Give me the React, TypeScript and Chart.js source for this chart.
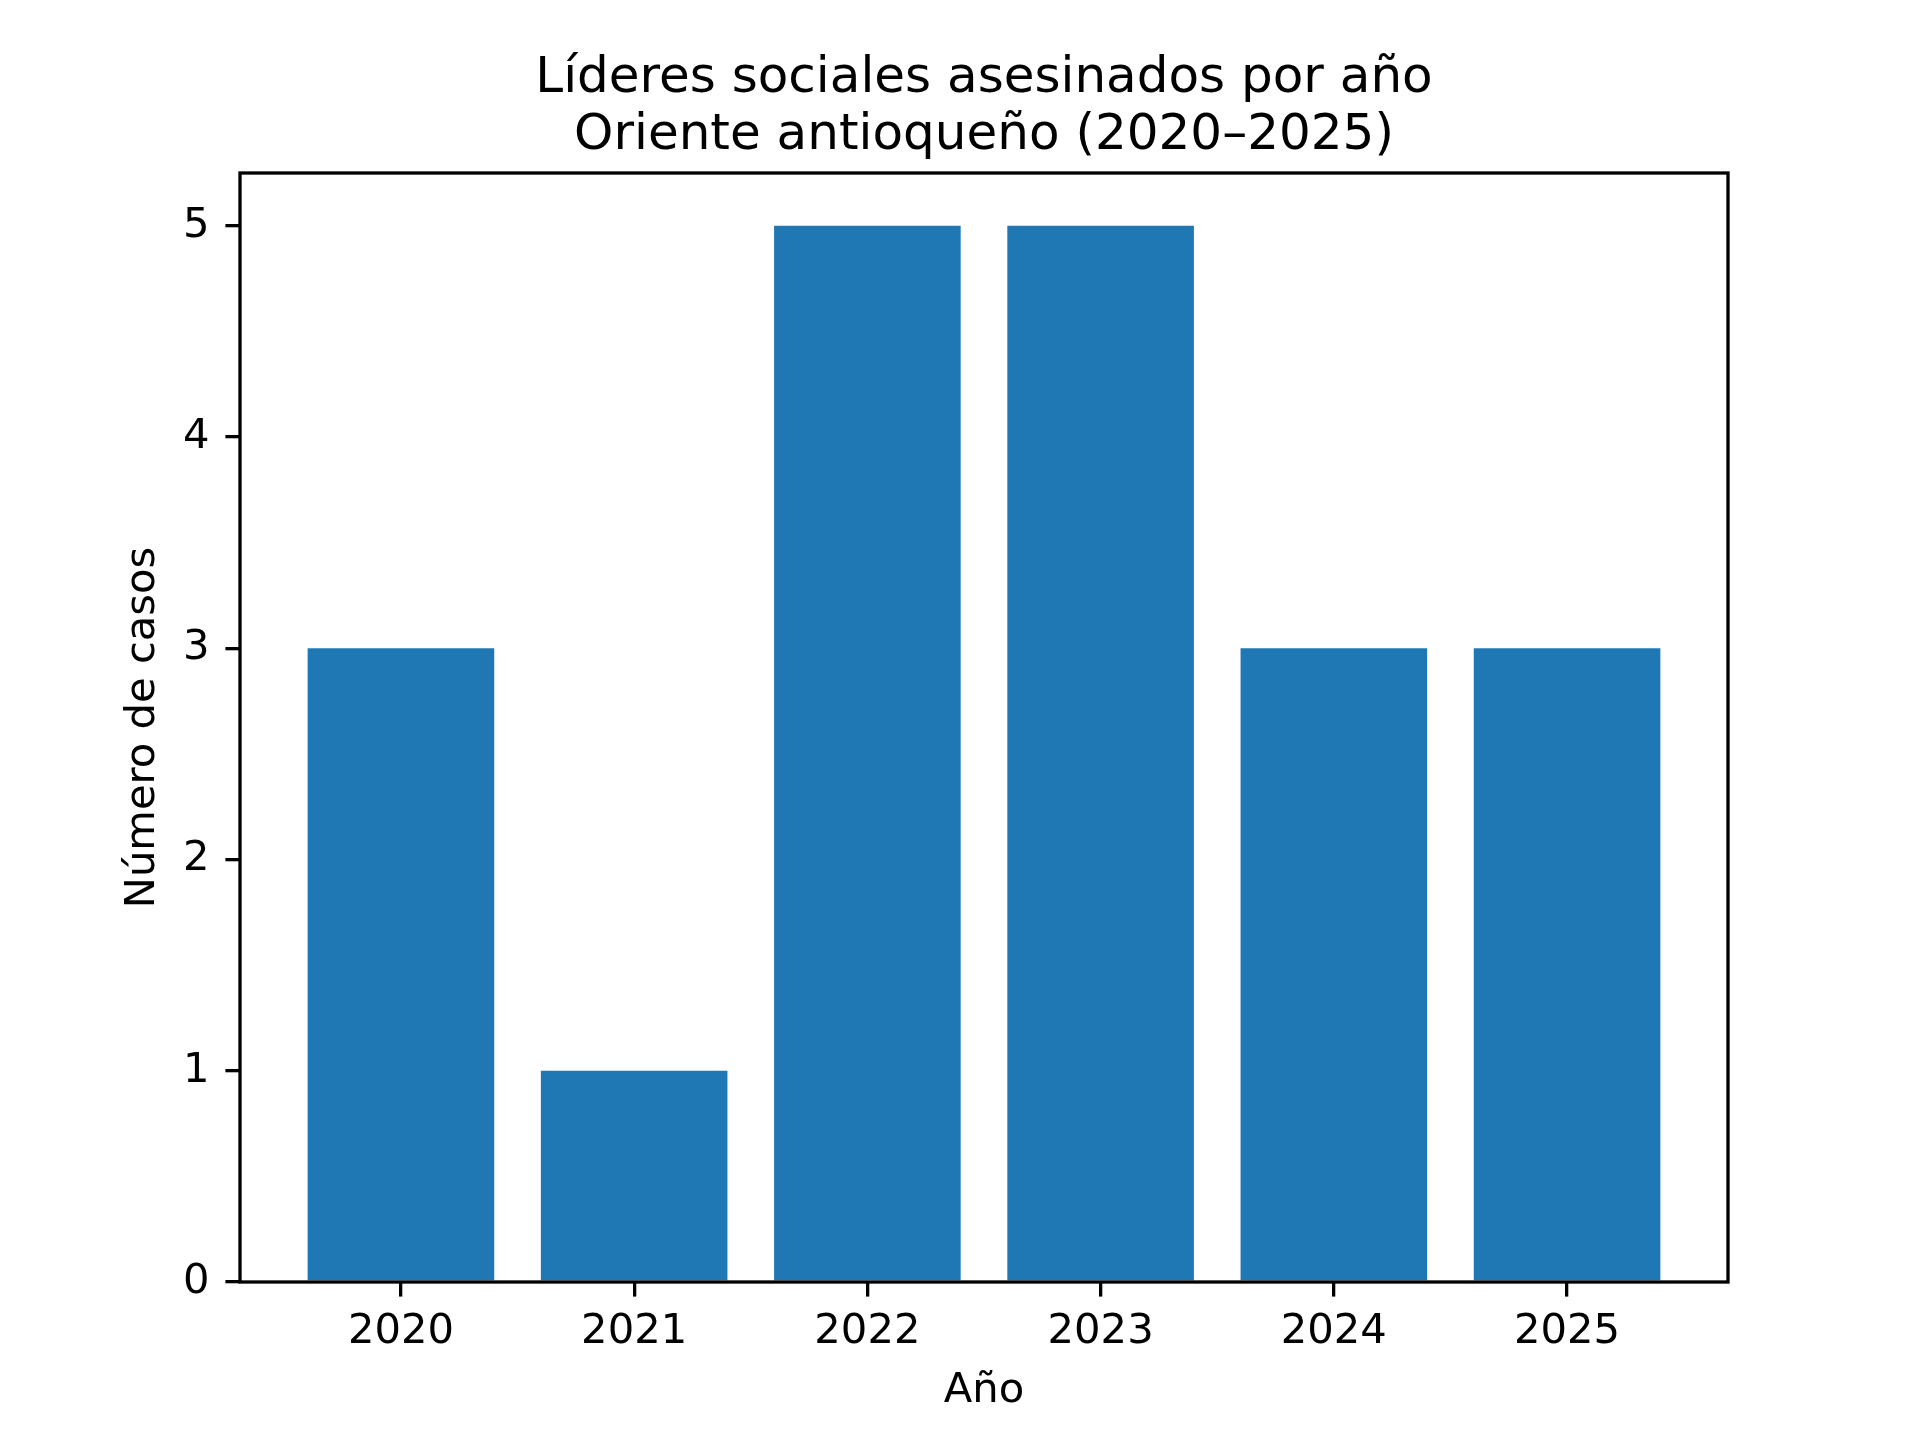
import React, { useRef, useEffect } from "react";
import { Chart, registerables } from "chart.js";
Chart.register(...registerables);

const years = ["2020", "2021", "2022", "2023", "2024", "2025"];
const cases = [3, 1, 5, 5, 3, 3];
const yTicks = [0, 1, 2, 3, 4, 5];
const titleLines = ["Líderes sociales asesinados por año", "Oriente antioqueño (2020–2025)"];

const W = 1920;
const H = 1440;
const FONT = "'DejaVu Sans', sans-serif";
const LW = 3.3;

// black box around the plot area, drawn over the bars like matplotlib spines
const framePlugin = {
  id: "frame",
  afterDatasetsDraw(chart: any) {
    const { ctx, chartArea: a } = chart;
    ctx.save();
    ctx.strokeStyle = "#000";
    ctx.lineWidth = LW;
    ctx.strokeRect(a.left, a.top, a.right - a.left, a.bottom - a.top);
    ctx.restore();
  },
};

const App: React.FC = () => {
  const chartRef = useRef<HTMLCanvasElement>(null);

  useEffect(() => {
    if (!chartRef.current) return;
    const myChart = new Chart(chartRef.current, {
      type: "bar",
      data: {
        datasets: [
          {
            data: cases.map((v, i) => ({ x: i, y: v })),
            backgroundColor: "#1f77b4",
            borderWidth: 0,
            barPercentage: 0.8,
            categoryPercentage: 1,
          },
        ],
      },
      options: {
        responsive: false,
        devicePixelRatio: 1,
        animation: false,
        layout: { padding: { left: 0, top: 0, right: 192, bottom: 0 } },
        plugins: {
          legend: { display: false },
          tooltip: { enabled: false },
          title: {
            display: true,
            fullSize: false,
            text: titleLines,
            color: "#000",
            font: { family: FONT, size: 50, weight: "normal", lineHeight: 1.15 },
            padding: { top: 50, bottom: 8 },
          },
        },
        scales: {
          x: {
            type: "linear",
            offset: false,
            min: -0.69,
            max: 5.69,
            afterBuildTicks: (axis: any) => {
              axis.ticks = years.map((_, i) => ({ value: i }));
            },
            afterFit: (axis: any) => {
              axis.height = 158;
            },
            grid: {
              offset: false,
              drawOnChartArea: false,
              drawTicks: true,
              tickLength: 14.6,
              tickWidth: LW,
              tickColor: "#000",
              lineWidth: LW,
              color: "#000",
            },
            border: { display: false },
            ticks: {
              callback: (v: any) => years[v] ?? "",
              color: "#000",
              font: { family: FONT, size: 41.7 },
              padding: 11,
              maxRotation: 0,
              autoSkip: false,
            },
            title: {
              display: true,
              text: "Año",
              color: "#000",
              font: { family: FONT, size: 41.7 },
              padding: { top: 0, bottom: 24 },
            },
          },
          y: {
            type: "linear",
            min: 0,
            max: 5.25,
            afterBuildTicks: (axis: any) => {
              axis.ticks = yTicks.map((v) => ({ value: v }));
            },
            afterFit: (axis: any) => {
              axis.width = 240;
            },
            grid: {
              drawOnChartArea: false,
              drawTicks: true,
              tickLength: 14.6,
              tickWidth: LW,
              tickColor: "#000",
              lineWidth: LW,
              color: "#000",
            },
            border: { display: false },
            ticks: {
              color: "#000",
              font: { family: FONT, size: 41.7 },
              padding: 16,
            },
            title: {
              display: true,
              text: "Número de casos",
              color: "#000",
              font: { family: FONT, size: 41.7 },
              padding: { top: 118, bottom: 0 },
            },
          },
        },
      },
      plugins: [framePlugin],
    } as any);

    return () => {
      myChart.destroy();
    };
  }, []);

  return (
    <div style={{ position: "fixed", left: 0, top: 0, width: W, height: H, background: "#fff" }}>
      <canvas ref={chartRef} width={W} height={H} style={{ width: W, height: H }}></canvas>
    </div>
  );
};

export default App;
